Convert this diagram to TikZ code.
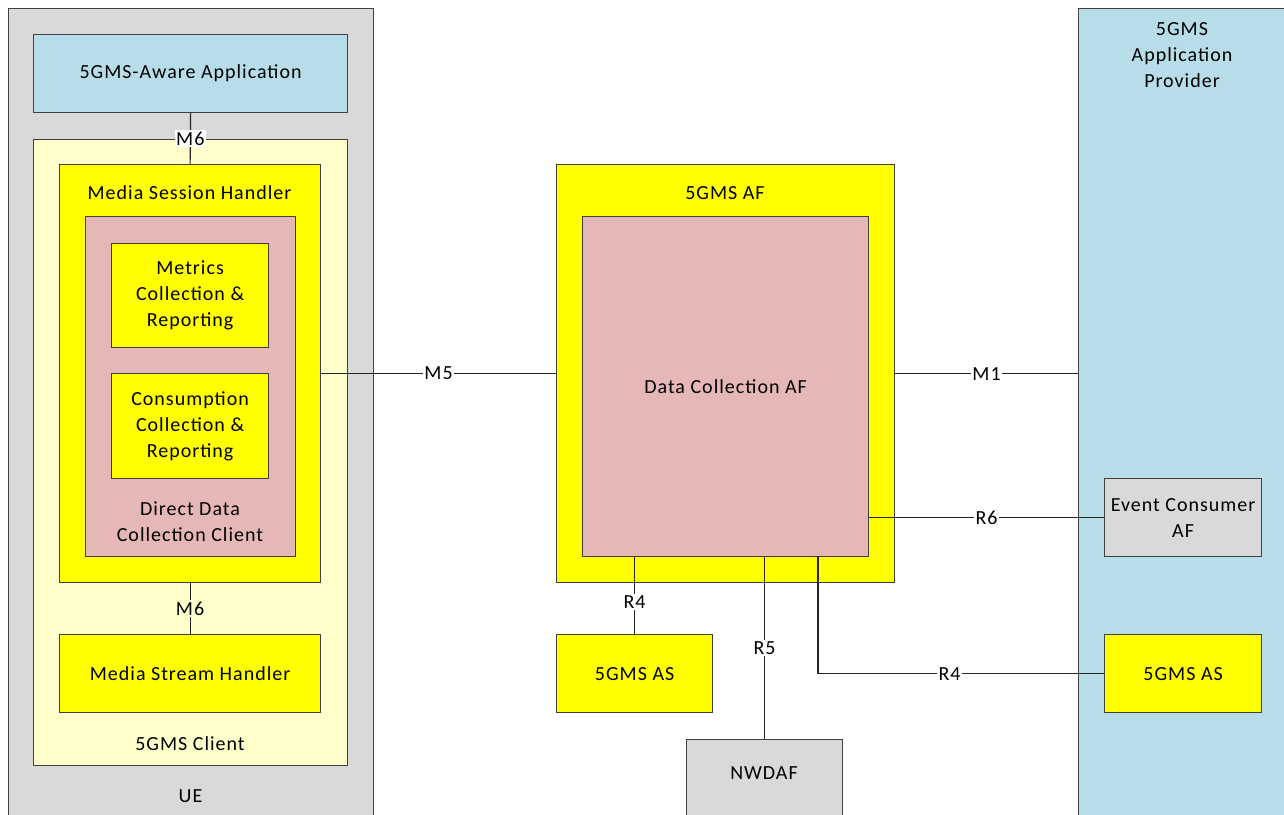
\documentclass[tikz,border=0pt]{standalone}
\usepackage{fontspec}
\setmainfont{Carlito}[LetterSpace=5]
\usetikzlibrary{calc}

\definecolor{uegray}{HTML}{D9D9D9}
\definecolor{appblue}{HTML}{B7DDE8}
\definecolor{boxyellow}{HTML}{FFFF00}
\definecolor{paleyellow}{HTML}{FFFFCC}
\definecolor{dcpink}{HTML}{E5B8B7}

\begin{document}
\begin{tikzpicture}[x=1pt, y=-1pt,
	box/.style={draw=black!75, line width=1.2pt, inner sep=0pt, anchor=north west, align=center},
	txt/.style={align=center, inner sep=1pt},
	lbl/.style={fill=white, inner sep=1.5pt},
	link/.style={draw=black!85, line width=1.2pt},
	every node/.append style={font=\fontsize{20}{26}\selectfont}]

	\useasboundingbox (0,0) rectangle (1284,814);
	\clip (0,0) rectangle (1284,814);

	% UE side
	\node[box, fill=uegray, minimum width=365, minimum height=830] (ue) at (8,8) {};
	\node[box, fill=appblue, minimum width=314, minimum height=78] (app) at (33,34)
		{5GMS-Aware Application};
	\node[box, fill=paleyellow, minimum width=314, minimum height=626] (client) at (33,139) {};
	\node[box, fill=boxyellow, minimum width=261, minimum height=418] (msh) at (59,164) {};
	\node[box, fill=dcpink, minimum width=210, minimum height=340] (ddcc) at (85,216) {};
	\node[box, fill=boxyellow, minimum width=157, minimum height=104] (metrics) at (111,243)
		{Metrics\\Collection \&\\Reporting};
	\node[box, fill=boxyellow, minimum width=157, minimum height=105] (consumption) at (111,373)
		{Consumption\\Collection \&\\Reporting};
	\node[box, fill=boxyellow, minimum width=261, minimum height=78] (mstreamh) at (59,634)
		{Media Stream Handler};

	\node[txt] (uelabel)     at (190.5,796) {UE};
	\node[txt] (clientlabel) at (190,744) {5GMS Client};
	\node[txt] (mshlabel)    at (189.5,193) {Media Session Handler};
	\node[txt] (ddcclabel)   at (190,522) {Direct Data\\Collection Client};

	% network side
	\node[box, fill=boxyellow, minimum width=338, minimum height=418] (af) at (556,164) {};
	\node[box, fill=dcpink, minimum width=286, minimum height=340] (dcaf) at (582,216)
		{Data Collection AF};
	\node[txt] (aflabel) at (725,193) {5GMS AF};

	\node[box, fill=boxyellow, minimum width=156, minimum height=78] (asleft) at (556,634)
		{5GMS AS};
	\node[box, fill=uegray, minimum width=156, minimum height=90] (nwdaf) at (686,739)
		{};
	\node[txt] (nwdaflabel) at (764,773) {NWDAF};

	% application provider
	\node[box, fill=appblue, minimum width=230, minimum height=830] (ap) at (1078,8) {};
	\node[txt] (aplabel) at (1182,55) {5GMS\\Application\\Provider};
	\node[box, fill=uegray, minimum width=157, minimum height=78] (ecaf) at (1104,478)
		{Event Consumer\\AF};
	\node[box, fill=boxyellow, minimum width=157, minimum height=78] (asright) at (1104,634)
		{5GMS AS};

	\coordinate (r4start) at (818,556);

	% reference points
	\draw[link] (app.south) -- node[lbl] {M6} (msh.north);
	\draw[link] (msh.south) -- node[lbl, fill=paleyellow] {M6} (mstreamh.north);
	\draw[link] (msh.east) -- node[lbl] {M5} (msh.east -| af.west);
	\draw[link] (af.east) -- node[lbl] {M1} (af.east -| ap.west);
	\draw[link] (ecaf.west -| dcaf.east) -- node[lbl] {R6} (ecaf.west);
	\draw[link] (asleft.north |- dcaf.south) -- node[lbl, pos=0.58] {R4} (asleft.north);
	\draw[link] (nwdaf.north |- dcaf.south) -- node[lbl] {R5} (nwdaf.north);
	\draw[link] (r4start) |- node[lbl, pos=0.73] {R4} (asright.west);
\end{tikzpicture}
\end{document}
